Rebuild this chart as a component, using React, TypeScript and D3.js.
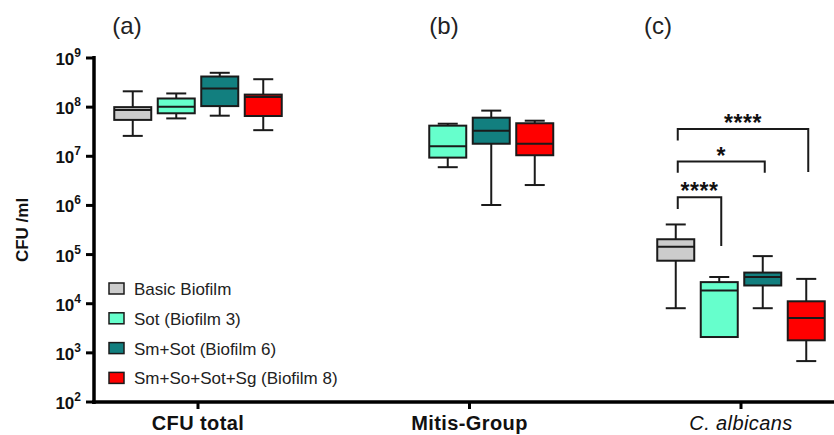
import React from "react";
import * as d3 from "d3";

const groups = ["CFU total", "Mitis-Group", "C. albicans"];
const panelLabels = ["(a)", "(b)", "(c)"];
const seriesNames = ["Basic Biofilm", "Sot (Biofilm 3)", "Sm+Sot (Biofilm 6)", "Sm+So+Sot+Sg (Biofilm 8)"];
const seriesColors = ["#cccccc", "#66ffcc", "#127f7f", "#ff0000"];

// [min, q1, median, q3, max] per group
const basicBiofilm = [[2.6e7, 5.5e7, 8.7e7, 1.0e8, 2.1e8], null, [8.1e3, 7.5e4, 1.45e5, 2.05e5, 4.1e5]];
const sotBiofilm3 = [[5.9e7, 7.5e7, 1.02e8, 1.5e8, 1.9e8], [6.0e6, 9.4e6, 1.6e7, 4.2e7, 4.6e7], [2.1e3, 2.1e3, 1.85e4, 2.75e4, 3.5e4]];
const smSotBiofilm6 = [[6.7e7, 1.05e8, 2.4e8, 4.2e8, 5.0e8], [1.02e6, 1.8e7, 3.3e7, 6.1e7, 8.5e7], [8.1e3, 2.35e4, 3.5e4, 4.3e4, 9.3e4]];
const mixBiofilm8 = [[3.4e7, 6.6e7, 1.6e8, 1.8e8, 3.7e8], [2.6e6, 1.05e7, 1.8e7, 4.7e7, 5.3e7], [680, 1.8e3, 5.1e3, 1.12e4, 3.2e4]];
const seriesData = [basicBiofilm, sotBiofilm3, smSotBiofilm6, mixBiofilm8];

const yTickExponents = [2, 3, 4, 5, 6, 7, 8, 9];

// significance brackets in group "C. albicans"
const bracketFrom = [0, 0, 0];
const bracketTo = [1, 2, 3];
const bracketLabels = ["****", "*", "****"];
const bracketLevel = [1.47e6, 7.8e6, 3.6e7];
const bracketLeftEnd = [8.5e5, 4.6e6, 2.1e7];
const bracketRightEnd = [1.5e5, 4.6e6, 4.8e6];

const FONT = "'Liberation Sans', Arial, sans-serif";

export default function App() {
  const W = 834, H = 435;
  const axisX = 94, axisY = 402, topY = 58;
  const y = d3.scaleLog().domain([1e2, 1e9]).range([axisY, topY]);
  const x = d3.scalePoint<string>().domain(groups).range([198, 741]);
  const panelLabelX = d3.scalePoint<string>().domain(panelLabels).range([127, 444]);
  const p = 6.5 / 43.5;
  const inner = d3.scaleBand<number>().domain([0, 1, 2, 3]).range([-87, 87]).paddingInner(p).paddingOuter(p / 2);
  const bw = inner.bandwidth();
  const capW = 20;
  const stroke = "#1a1a1a";
  const labelXs = [127, 444, 658];

  return (
    <svg width={W} height={H} style={{ position: "absolute", left: 0, top: 0, background: "#fff" }} fontFamily={FONT}>
      {/* panel labels */}
      {panelLabels.map((l, i) => (
        <text key={l} x={labelXs[i]} y={34} fontSize={24} textAnchor="middle" fill="#222">{l}</text>
      ))}

      {/* boxes */}
      {seriesData.map((arr, si) =>
        arr.map((st, gi) => {
          if (!st) return null;
          const cx = (x(groups[gi]) as number) + (inner(si) as number) + bw / 2;
          const [mn, q1, md, q3, mx] = st;
          return (
            <g key={`${si}-${gi}`}>
              <line x1={cx} x2={cx} y1={y(mx)} y2={y(q3)} stroke={stroke} strokeWidth={2} />
              <line x1={cx} x2={cx} y1={y(q1)} y2={y(mn)} stroke={stroke} strokeWidth={2} />
              {mx > q3 && <line x1={cx - capW / 2} x2={cx + capW / 2} y1={y(mx)} y2={y(mx)} stroke={stroke} strokeWidth={2} />}
              {mn < q1 && <line x1={cx - capW / 2} x2={cx + capW / 2} y1={y(mn)} y2={y(mn)} stroke={stroke} strokeWidth={2} />}
              <rect x={cx - bw / 2} y={y(q3)} width={bw} height={y(q1) - y(q3)} fill={seriesColors[si]} stroke={stroke} strokeWidth={2} />
              <line x1={cx - bw / 2} x2={cx + bw / 2} y1={y(md)} y2={y(md)} stroke={stroke} strokeWidth={2} />
            </g>
          );
        })
      )}

      {/* significance brackets */}
      {bracketLabels.map((lab, i) => {
        const gx = x(groups[2]) as number;
        const x1 = gx + (inner(bracketFrom[i]) as number) + bw / 2 + 2;
        const x2 = gx + (inner(bracketTo[i]) as number) + bw / 2 + 2;
        const ly = y(bracketLevel[i]);
        return (
          <g key={i}>
            <path d={`M${x1},${y(bracketLeftEnd[i])}V${ly}H${x2}V${y(bracketRightEnd[i])}`} fill="none" stroke={stroke} strokeWidth={2} />
            <text x={(x1 + x2) / 2} y={ly + 2} textAnchor="middle" fontSize={23} fontWeight="bold" letterSpacing={0.5} fill="#111">{lab}</text>
          </g>
        );
      })}

      {/* y axis */}
      <line x1={axisX} x2={axisX} y1={topY - 2} y2={axisY + 2} stroke="#000" strokeWidth={3.5} />
      {yTickExponents.map((e) => (
        <g key={e}>
          <line x1={axisX - 8} x2={axisX} y1={y(Math.pow(10, e))} y2={y(Math.pow(10, e))} stroke="#000" strokeWidth={3} />
          <text x={axisX - 13} y={y(Math.pow(10, e)) + 7} textAnchor="end" fontSize={17} fontWeight="bold" fill="#111">
            10<tspan dy={-8} fontSize={12}>{e}</tspan>
          </text>
        </g>
      ))}
      <text transform={`translate(28,${(axisY + topY) / 2}) rotate(-90)`} textAnchor="middle" fontSize={17} fontWeight="bold" fill="#111">CFU /ml</text>

      {/* x axis */}
      <line x1={axisX - 2} x2={W} y1={axisY} y2={axisY} stroke="#000" strokeWidth={3.5} />
      {groups.map((g, i) => (
        <g key={g}>
          <line x1={x(g) as number} x2={x(g) as number} y1={axisY} y2={axisY + 7} stroke="#000" strokeWidth={3} />
          <text x={x(g) as number} y={430} textAnchor="middle" fontSize={20} letterSpacing={0.4}
            fontWeight={i === 2 ? "normal" : "bold"} fontStyle={i === 2 ? "italic" : "normal"} fill="#111">{g}</text>
        </g>
      ))}

      {/* legend */}
      {seriesNames.map((n, i) => (
        <g key={n} transform={`translate(109,${289 + i * 29.8})`}>
          <rect x={0} y={-6} width={15} height={11} fill={seriesColors[i]} stroke={stroke} strokeWidth={1.5} />
          <text x={25} y={6} fontSize={17} fill="#222">{n}</text>
        </g>
      ))}
    </svg>
  );
}
